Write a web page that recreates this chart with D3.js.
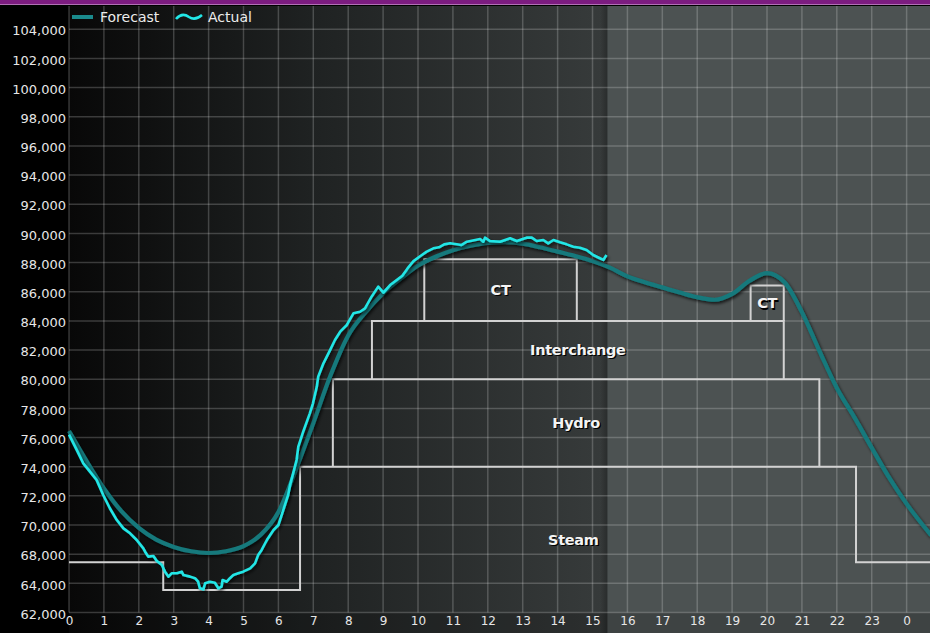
<!DOCTYPE html>
<html>
<head>
<meta charset="utf-8">
<script src="https://cdn.jsdelivr.net/npm/d3@7"></script>
<style>
  body { margin: 0; background: #000; }
  svg { display: block; }
</style>
</head>
<body>
<div id="chart"></div>
<script>
// hour of day -> load (MW)
var forecastHours = [0, 0.5, 1, 1.5, 2, 2.5, 3, 3.5, 4, 4.5, 5, 5.5, 6, 6.5, 7, 7.5, 8, 8.5, 9, 9.5,
  10, 10.5, 11, 11.5, 12, 12.5, 13, 13.5, 14, 14.5, 15, 15.5, 16, 16.5, 17, 17.5, 18, 18.5, 19, 19.5,
  20, 20.5, 21, 21.5, 22, 22.5, 23, 23.5, 24, 24.7];
var forecastLoad = [76450, 74400, 72500, 70950, 69800, 69000, 68500, 68200, 68080, 68200, 68550, 69350, 70900, 73800, 77000, 80300, 83000, 84600, 85900, 86900,
  87800, 88400, 88850, 89150, 89350, 89400, 89300, 89050, 88750, 88450, 88100, 87650, 87050, 86650, 86300, 85950, 85620, 85450, 85850, 86750,
  87280, 86650, 84600, 81950, 79400, 77400, 75300, 73250, 71450, 69300];

var actualHours = [0, 0.22, 0.41, 0.6, 0.79, 0.98, 1.17, 1.37, 1.56, 1.75, 1.94, 2.13, 2.18, 2.27, 2.42, 2.51, 2.66, 2.75, 2.85, 2.94,
  3.09, 3.23, 3.28, 3.47, 3.61, 3.7, 3.75, 3.85, 3.9, 4.04, 4.18, 4.28, 4.37, 4.4, 4.52, 4.61, 4.71, 4.85, 4.99, 5.19,
  5.33, 5.42, 5.52, 5.62, 5.67, 5.86, 6, 6.14, 6.28, 6.33, 6.52, 6.57, 6.71, 6.9, 6.99, 7.1, 7.14, 7.29, 7.48, 7.62,
  7.77, 7.96, 8.15, 8.34, 8.48, 8.67, 8.86, 9.01, 9.2, 9.39, 9.55, 9.7, 9.87, 10.1, 10.25, 10.44, 10.6, 10.75, 10.92, 11.25,
  11.4, 11.78, 11.87, 11.92, 12.06, 12.35, 12.64, 12.83, 13.11, 13.26, 13.4, 13.59, 13.73, 13.88, 14.07, 14.26, 14.45, 14.64, 14.83, 15.02,
  15.21, 15.31, 15.4];
var actualLoad = [76200, 75150, 74230, 73660, 73090, 72060, 71150, 70340, 69770, 69430, 68970, 68400, 68170, 67830, 67880, 67550, 67260, 66800, 66460, 66690,
  66690, 66800, 66570, 66460, 66350, 66110, 65660, 65590, 66000, 66110, 66040, 65660, 65770, 66230, 66110, 66350, 66570, 66690, 66800, 67030,
  67370, 67940, 68290, 68750, 68970, 69660, 70000, 71030, 72060, 72700, 74460, 75370, 76400, 77660, 78350, 79490, 80170, 81090, 82000, 82690,
  83260, 83720, 84520, 84630, 84860, 85660, 86350, 85940, 86460, 86810, 87100, 87600, 88100, 88500, 88750, 88980, 89050, 89250, 89320, 89210,
  89430, 89620, 89430, 89710, 89480, 89430, 89670, 89480, 89710, 89710, 89480, 89550, 89320, 89550, 89390, 89250, 89090, 89020, 88860, 88520,
  88300, 88180, 88520];

// generation stack
var steamHours = [0, 2.7, 2.7, 6.62, 6.62, 22.55, 22.55, 24.7];
var steamLoad = [67450, 67450, 65550, 65550, 74000, 74000, 67450, 67450];
var blockNames = ["Hydro", "Interchange", "CT", "CT"];
var blockStart = [7.56, 8.68, 10.18, 19.53];
var blockEnd = [21.5, 20.48, 14.55, 20.48];
var blockBase = [74000, 80000, 84000, 84000];
var blockTop = [80000, 84000, 88230, 86420];

var yTicks = d3.range(64000, 104001, 2000);
var yTickLabels = ["62,000", "64,000", "68,000", "70,000", "72,000", "74,000", "76,000", "78,000", "80,000", "82,000",
  "84,000", "86,000", "88,000", "90,000", "92,000", "94,000", "96,000", "98,000", "100,000", "102,000", "104,000"];
var xTicks = d3.range(0, 25);
var xTickLabels = ["0", "1", "2", "3", "4", "5", "6", "7", "8", "9", "10", "11", "12", "13", "14", "15", "16", "17",
  "18", "19", "20", "21", "22", "23", "0"];
var nowHour = 15.42;

var width = 930, height = 633;
var padding = {left: 69, right: 0, top: 6, bottom: 20.5};
var font = "'DejaVu Sans', sans-serif";

var svg = d3.select("#chart")
            .append("svg")
              .attr("width", width)
              .attr("height", height)
              .style("font-family", font);

var xScale = d3.scaleLinear()
               .domain([0, 24.67])
               .range([padding.left, width - padding.right]);
var yScale = d3.scaleLinear()
               .domain([64000, 104000])
               .range([height - padding.bottom, 29.3]);

var defs = svg.append("defs");
var bg = defs.append("linearGradient")
             .attr("id", "bg")
             .attr("gradientUnits", "userSpaceOnUse")
             .attr("x1", padding.left).attr("x2", xScale(nowHour))
             .attr("y1", 0).attr("y2", 0);
bg.append("stop").attr("offset", 0).attr("stop-color", "#080808");
bg.append("stop").attr("offset", 0.45).attr("stop-color", "#1f2222");
bg.append("stop").attr("offset", 1).attr("stop-color", "#373b3b");

var edge = defs.append("linearGradient").attr("id", "edge");
edge.append("stop").attr("offset", 0).attr("stop-color", "#000").attr("stop-opacity", 0);
edge.append("stop").attr("offset", 1).attr("stop-color", "#000").attr("stop-opacity", 0.25);

var shadow = defs.append("filter").attr("id", "shadow")
                 .attr("x", "-5%").attr("y", "-5%").attr("width", "110%").attr("height", "110%");
shadow.append("feDropShadow")
      .attr("dx", 1.5).attr("dy", 2).attr("stdDeviation", 1.5)
      .attr("flood-color", "#000").attr("flood-opacity", 0.7);

// backgrounds
svg.append("rect")
   .attr("x", padding.left).attr("y", padding.top)
   .attr("width", xScale(nowHour) - padding.left).attr("height", height - padding.top)
   .attr("fill", "url(#bg)");
svg.append("rect")
   .attr("x", xScale(nowHour)).attr("y", padding.top)
   .attr("width", width - xScale(nowHour)).attr("height", height - padding.top)
   .attr("fill", "#4c5252");
svg.append("rect")
   .attr("x", xScale(nowHour) - 7).attr("y", padding.top)
   .attr("width", 7).attr("height", height - padding.top)
   .attr("fill", "url(#edge)");
svg.append("rect")
   .attr("x", padding.left).attr("y", height - padding.bottom)
   .attr("width", width - padding.left).attr("height", padding.bottom)
   .attr("fill", "#000").attr("opacity", 0.18);

// purple title bar
svg.append("rect").attr("x", 0).attr("y", 0).attr("width", width).attr("height", 4).attr("fill", "#7c1c80");
svg.append("rect").attr("x", 0).attr("y", 4).attr("width", width).attr("height", 1).attr("fill", "#b070b4");

// grid
svg.append("g")
   .selectAll("line")
   .data(yTicks)
   .enter()
   .append("line")
     .attr("x1", padding.left).attr("x2", width)
     .attr("y1", d => yScale(d)).attr("y2", d => yScale(d))
     .attr("stroke", "#fff").attr("stroke-opacity", 0.2).attr("stroke-width", 1.5);
svg.append("g")
   .selectAll("line")
   .data(xTicks)
   .enter()
   .append("line")
     .attr("x1", d => xScale(d)).attr("x2", d => xScale(d))
     .attr("y1", padding.top).attr("y2", height - padding.bottom)
     .attr("stroke", "#fff").attr("stroke-opacity", 0.2).attr("stroke-width", 1.5);

// axes
var yAxis = d3.axisLeft(yScale)
              .tickValues(yTicks)
              .tickSize(0)
              .tickPadding(3)
              .tickFormat((d, i) => yTickLabels[i]);
svg.append("g")
   .attr("class", "axis")
   .attr("transform", "translate(" + padding.left + ",1.5)")
   .call(yAxis)
   .call(g => g.select(".domain").remove())
   .attr("font-family", font)
   .attr("font-size", 13)
   .selectAll("text")
     .attr("fill", "#e6e6e6");

var xAxis = d3.axisBottom(xScale)
              .tickValues(xTicks)
              .tickSize(0)
              .tickPadding(4)
              .tickFormat((d, i) => xTickLabels[i]);
svg.append("g")
   .attr("class", "axis")
   .attr("transform", "translate(0," + (height - padding.bottom) + ")")
   .call(xAxis)
   .call(g => g.select(".domain").remove())
   .attr("font-family", font)
   .attr("font-size", 12)
   .selectAll("text")
     .attr("fill", "#e6e6e6");

// generation stack outlines
var stepLine = d3.line()
                 .x(d => xScale(d[0]))
                 .y(d => yScale(d[1]));
var stack = svg.append("g")
               .attr("fill", "none")
               .attr("stroke", "#d2d2d2")
               .attr("stroke-width", 2);
stack.append("path")
     .attr("d", stepLine(d3.zip(steamHours, steamLoad)));
stack.selectAll(".block")
     .data(blockNames)
     .enter()
     .append("path")
       .attr("class", "block")
       .attr("d", (d, i) => stepLine([[blockStart[i], blockBase[i]], [blockStart[i], blockTop[i]],
                                      [blockEnd[i], blockTop[i]], [blockEnd[i], blockBase[i]]]));

var labels = blockNames.map((d, i) => ({name: d, x: (blockStart[i] + blockEnd[i]) / 2, y: (blockBase[i] + blockTop[i]) / 2}));
labels.push({name: "Steam", x: 14.45, y: 69000});

var labelG = svg.append("g")
                .attr("text-anchor", "middle")
                .style("font-size", "14.5px")
                .style("font-weight", "bold")
                .style("letter-spacing", "-0.3px");
labelG.selectAll(".lblShadow")
      .data(labels)
      .enter()
      .append("text")
        .attr("class", "lblShadow")
        .attr("x", d => xScale(d.x) + 1.2)
        .attr("y", d => yScale(d.y) + 1.2)
        .attr("dy", "0.35em")
        .attr("fill", "#000")
        .text(d => d.name);
labelG.selectAll(".lbl")
      .data(labels)
      .enter()
      .append("text")
        .attr("class", "lbl")
        .attr("x", d => xScale(d.x))
        .attr("y", d => yScale(d.y))
        .attr("dy", "0.35em")
        .attr("fill", "#f4f4f4")
        .text(d => d.name);

// load lines
var forecastLine = d3.line()
                     .curve(d3.curveMonotoneX)
                     .x(d => xScale(d[0]))
                     .y(d => yScale(d[1]));
svg.append("path")
   .attr("d", forecastLine(d3.zip(forecastHours, forecastLoad)))
   .attr("fill", "none")
   .attr("stroke", "#15797b")
   .attr("stroke-width", 4.2)
   .attr("filter", "url(#shadow)");

var actualLine = d3.line()
                   .x(d => xScale(d[0]))
                   .y(d => yScale(d[1]));
svg.append("path")
   .attr("d", actualLine(d3.zip(actualHours, actualLoad)))
   .attr("fill", "none")
   .attr("stroke", "#22e6e6")
   .attr("stroke-width", 2.6)
   .attr("stroke-linejoin", "round")
   .attr("filter", "url(#shadow)");

// legend
var legend = svg.append("g").style("font-size", "14px").attr("fill", "#ececec");
legend.append("line")
      .attr("x1", 72).attr("x2", 93).attr("y1", 17).attr("y2", 17)
      .attr("stroke", "#1a8a8c").attr("stroke-width", 4);
legend.append("text").attr("x", 100).attr("y", 22).text("Forecast");
legend.append("path")
      .attr("d", "M176,19 Q182,12 189,17 Q195,21 202,15")
      .attr("fill", "none").attr("stroke", "#22e6e6").attr("stroke-width", 2.6);
legend.append("text").attr("x", 208).attr("y", 22).text("Actual");
</script>
</body>
</html>
